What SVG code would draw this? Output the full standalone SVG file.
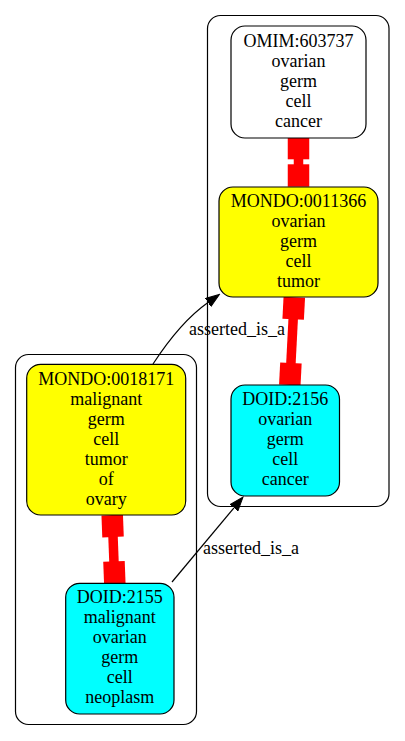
<svg xmlns="http://www.w3.org/2000/svg" width="405" height="741" viewBox="0 0 405 741">
<defs>
<style>
.cl{fill:none;stroke:#000;stroke-width:1.2}
.nd{stroke:#000;stroke-width:1.2}
.t{font-family:"Liberation Serif","Times New Roman",serif;font-size:18px;fill:#000;text-anchor:middle}
.e{fill:none;stroke:#000;stroke-width:1.2}
.r{fill:#ff0000;stroke:none}
</style>
<marker id="ah" markerUnits="userSpaceOnUse" markerWidth="15" markerHeight="11" refX="0" refY="5" orient="auto" viewBox="0 0 15 10">
<path d="M0,0 L14,5 L0,10 z" fill="#000" stroke="#000" stroke-width="1"/>
</marker>
</defs>
<rect width="405" height="741" fill="#fff"/>
<g id="cluster_right"><rect class="cl" x="207.5" y="15.5" width="181.5" height="491" rx="13"/></g>
<g id="cluster_left"><rect class="cl" x="15.5" y="354.5" width="181" height="370" rx="13"/></g>
<g id="edges">
<g id="e1"><path class="e" d="M153,364 C168,341 186,318 208,302.5" marker-end="url(#ah)"/>
<text class="t" x="237" y="335">asserted_is_a</text></g>
<g id="e2"><path class="e" d="M172,582 L234,507.8" marker-end="url(#ah)"/>
<text class="t" x="251" y="554">asserted_is_a</text></g>
<g id="e3" transform="translate(298.5,137.7)">
<rect class="r" x="-10.75" y="0" width="21.5" height="21.6"/>
<rect class="r" x="-4.75" y="21" width="9.5" height="7"/>
<rect class="r" x="-10.75" y="26.6" width="21.5" height="22.4"/>
</g>
<g id="e4" transform="translate(294.3,297.3) rotate(2.94)">
<rect class="r" x="-10.75" y="0" width="21.5" height="22"/>
<rect class="r" x="-4.75" y="21" width="9.5" height="46"/>
<rect class="r" x="-10.75" y="65.8" width="21.5" height="22"/>
</g>
<g id="e5" transform="translate(112.2,515) rotate(-2.18)">
<rect class="r" x="-10.75" y="0" width="21.5" height="22"/>
<rect class="r" x="-4.75" y="21" width="9.5" height="27"/>
<rect class="r" x="-10.75" y="46.4" width="21.5" height="22"/>
</g>
</g>
<g id="OMIM_603737">
<rect class="nd" x="231" y="26" width="135" height="112" rx="14" fill="#fff"/>
<text class="t" x="298.5" y="46.7">OMIM:603737</text>
<text class="t" x="298.5" y="66.7">ovarian</text>
<text class="t" x="298.5" y="86.7">germ</text>
<text class="t" x="298.5" y="106.7">cell</text>
<text class="t" x="298.5" y="126.7">cancer</text>
</g>
<g id="MONDO_0011366">
<rect class="nd" x="219" y="187" width="159" height="110" rx="14" fill="#ffff00"/>
<text class="t" x="298.5" y="206.7">MONDO:0011366</text>
<text class="t" x="298.5" y="226.7">ovarian</text>
<text class="t" x="298.5" y="246.7">germ</text>
<text class="t" x="298.5" y="266.7">cell</text>
<text class="t" x="298.5" y="286.7">tumor</text>
</g>
<g id="DOID_2156">
<rect class="nd" x="231" y="385" width="108.5" height="111" rx="14" fill="#00ffff"/>
<text class="t" x="285.2" y="405">DOID:2156</text>
<text class="t" x="285.2" y="425">ovarian</text>
<text class="t" x="285.2" y="445">germ</text>
<text class="t" x="285.2" y="465">cell</text>
<text class="t" x="285.2" y="485">cancer</text>
</g>
<g id="MONDO_0018171">
<rect class="nd" x="26.7" y="364.3" width="159" height="150.7" rx="14" fill="#ffff00"/>
<text class="t" x="106.2" y="385">MONDO:0018171</text>
<text class="t" x="106.2" y="405">malignant</text>
<text class="t" x="106.2" y="425">germ</text>
<text class="t" x="106.2" y="445">cell</text>
<text class="t" x="106.2" y="465">tumor</text>
<text class="t" x="106.2" y="485">of</text>
<text class="t" x="106.2" y="505">ovary</text>
</g>
<g id="DOID_2155">
<rect class="nd" x="65.7" y="583.3" width="108.3" height="130.7" rx="14" fill="#00ffff"/>
<text class="t" x="119.8" y="603.3">DOID:2155</text>
<text class="t" x="119.8" y="623.3">malignant</text>
<text class="t" x="119.8" y="643.3">ovarian</text>
<text class="t" x="119.8" y="663.3">germ</text>
<text class="t" x="119.8" y="683.3">cell</text>
<text class="t" x="119.8" y="703.3">neoplasm</text>
</g>
</svg>
